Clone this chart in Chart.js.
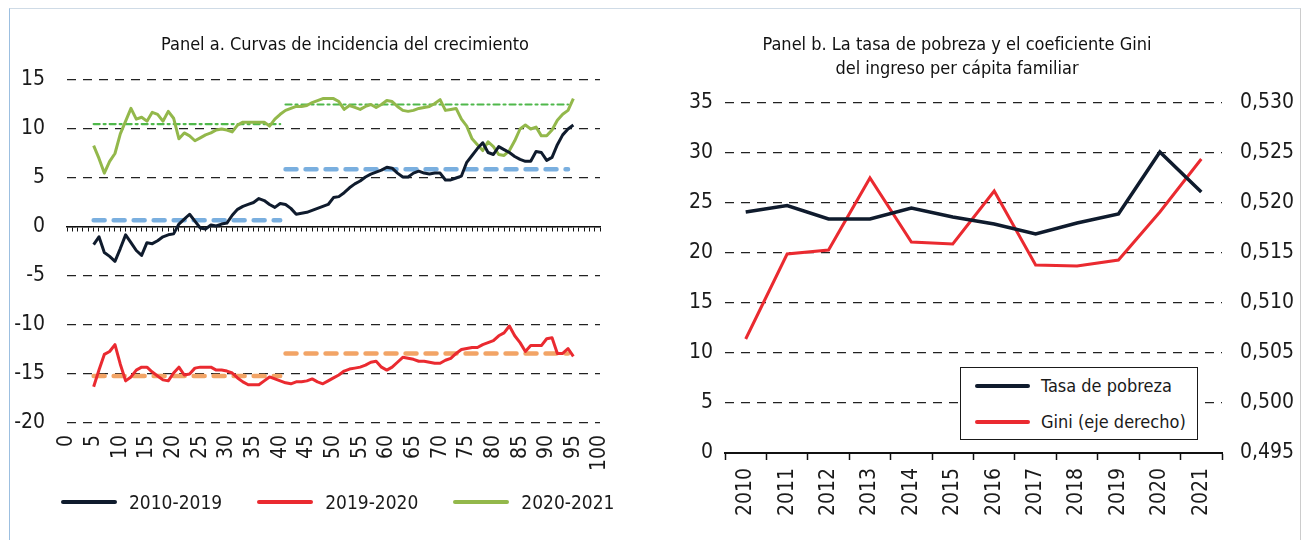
<!DOCTYPE html>
<html lang="es">
<head>
<meta charset="utf-8">
<script src="https://cdn.jsdelivr.net/npm/chart.js@4.4.1/dist/chart.umd.min.js"></script>
<style>
  html, body { margin: 0; padding: 0; background: #fff; }
  body { width: 1307px; height: 540px; position: relative; overflow: hidden;
         font-family: "Liberation Sans Narrow", "DejaVu Sans Condensed", sans-serif; color: #1a1a1a; }
  .frame { position: absolute; left: 9px; top: 8px; width: 1290px; height: 540px;
           border-left: 1px solid #9cbfe0; border-top: 1px solid #cfdbe6; border-right: 1px solid #cccccc; }
  #chartA { position: absolute; left: 0; top: 0; }
  #chartB { position: absolute; left: 655px; top: 0; }
  .ttl { position: absolute; font-size: 18px; line-height: 24px; color: #111; text-align: center; white-space: nowrap; }
  #ttlA { left: 145px; width: 400px; top: 32px; }
  #ttlB { left: 757px; width: 400px; top: 32px; }
  .legA { position: absolute; left: 61px; top: 490px; display: flex; gap: 35px; font-size: 19px; line-height: 24px; white-space: nowrap; }
  .legA .it, .legB .it { display: flex; align-items: center; }
  .legA .sw { width: 56px; height: 4px; margin-right: 12px; border-radius: 2px; }
  .legB { position: absolute; left: 960px; top: 367px; width: 238px; height: 73px; border: 1.5px solid #1a1a1a;
          background: #fff; font-size: 18px; line-height: 24px; padding-top: 6px; box-sizing: border-box; white-space: nowrap; }
  .legB .it { padding-left: 14px; margin-bottom: 12px; }
  .legB .sw { width: 55px; height: 4px; margin-right: 11px; border-radius: 2px; }
</style>
</head>
<body>
<div class="frame"></div>
<canvas id="chartA" width="650" height="540"></canvas>
<canvas id="chartB" width="652" height="540"></canvas>
<div class="ttl" id="ttlA">Panel a. Curvas de incidencia del crecimiento</div>
<div class="ttl" id="ttlB">Panel b. La tasa de pobreza y el coeficiente Gini<br>del ingreso per cápita familiar</div>
<div class="legA" id="legA"></div>
<div class="legB" id="legB"></div>

<script>
// ===== Panel a data (percentil -> crecimiento %) =====
const pctl = [5,6,7,8,9,10,11,12,13,14,15,16,17,18,19,20,21,22,23,24,25,26,27,28,29,30,
  31,32,33,34,35,36,37,38,39,40,41,42,43,44,45,46,47,48,49,50,51,52,53,54,55,56,57,58,59,60,
  61,62,63,64,65,66,67,68,69,70,71,72,73,74,75,76,77,78,79,80,81,82,83,84,85,86,87,88,89,90,
  91,92,93,94,95];

const g1019 = [-1.8,-1.0,-2.6,-3.0,-3.5,-2.2,-0.8,-1.6,-2.4,-2.9,-1.6,-1.7,-1.4,-1.0,-0.8,-0.7,
  0.3,0.8,1.3,0.6,-0.1,-0.2,0.2,0.1,0.3,0.4,1.2,1.8,2.1,2.3,2.5,2.9,2.7,2.3,2.0,2.4,2.3,1.9,1.3,
  1.4,1.5,1.7,1.9,2.1,2.3,3.0,3.1,3.5,4.0,4.4,4.7,5.1,5.4,5.6,5.8,6.1,6.0,5.5,5.1,5.1,5.5,5.7,
  5.5,5.4,5.5,5.5,4.8,4.8,5.0,5.2,6.6,7.3,8.0,8.6,7.6,7.4,8.2,7.9,7.6,7.2,6.9,6.7,6.7,7.7,7.6,
  6.8,7.1,8.4,9.4,10.0,10.4];

const g1920 = [-16.3,-14.6,-13.0,-12.7,-12.0,-14.0,-15.7,-15.3,-14.6,-14.3,-14.3,-14.8,-15.2,
  -15.6,-15.7,-14.9,-14.3,-15.1,-15.0,-14.4,-14.3,-14.3,-14.3,-14.6,-14.6,-14.7,-14.9,-15.4,
  -15.8,-16.1,-16.1,-16.1,-15.7,-15.3,-15.5,-15.7,-15.9,-16.0,-15.8,-15.8,-15.7,-15.5,-15.8,
  -16.0,-15.7,-15.4,-15.1,-14.7,-14.5,-14.4,-14.3,-14.1,-13.8,-13.7,-14.3,-14.6,-14.3,-13.8,
  -13.3,-13.4,-13.5,-13.7,-13.7,-13.8,-13.9,-13.9,-13.6,-13.4,-12.9,-12.5,-12.4,-12.3,-12.3,
  -12.0,-11.8,-11.6,-11.1,-10.8,-10.1,-11.1,-11.8,-12.7,-12.1,-12.1,-12.1,-11.4,-11.3,-12.9,
  -12.9,-12.4,-13.2];

const g2021 = [8.3,7.0,5.5,6.7,7.5,9.5,10.8,12.1,11.0,11.2,10.8,11.7,11.5,10.8,11.8,11.1,9.0,
  9.6,9.3,8.8,9.1,9.4,9.6,9.9,10.0,9.9,9.7,10.4,10.7,10.7,10.7,10.7,10.7,10.3,11.0,11.5,11.9,
  12.1,12.3,12.3,12.4,12.7,12.9,13.1,13.1,13.1,12.8,12.0,12.4,12.2,12.0,12.3,12.5,12.2,12.5,
  12.9,12.8,12.3,11.9,11.8,11.9,12.1,12.2,12.3,12.6,13.0,11.9,12.0,12.1,11.0,10.3,9.0,8.4,7.8,
  8.7,8.2,7.4,7.3,7.8,8.8,10.0,10.4,10.0,10.2,9.3,9.3,9.9,10.9,11.5,11.9,13.1];

// promedios por tramo de percentiles (40 % inferior / 60 % superior)
const tramoInf = [5, 40];
const tramoSup = [41, 94];
const prom1019 = [0.7, 5.9];
const prom1920 = [-15.2, -12.9];
const prom2021 = [10.5, 12.5];

// ===== Panel b data =====
const years = ['2010','2011','2012','2013','2014','2015','2016','2017','2018','2019','2020','2021'];
const pobreza = [24.1, 24.75, 23.4, 23.4, 24.5, 23.6, 22.9, 21.9, 23.0, 23.9, 30.1, 26.1];
const gini = [0.5064, 0.5149, 0.5153, 0.5225, 0.5161, 0.5159, 0.5212, 0.5138, 0.5137, 0.5143, 0.5191, 0.5244];

const FONT = '"Liberation Sans Narrow", "DejaVu Sans Condensed", sans-serif';
const TXT = '#1a1a1a';
const tickFont = { family: FONT, size: 21 };

const C_BLACK = '#0f1b2d', C_RED = '#ea2a30', C_GREEN = '#93b84b';

function pts(xs, ys){ return xs.map((x,i) => ({ x: x, y: ys[i] })); }
function seg(tr, v){ return [{ x: tr[0], y: v }, { x: tr[1], y: v }]; }

function curve(label, ys, color){
    return { label, data: pts(pctl, ys), borderColor: color, backgroundColor: color,
             borderWidth: 3, pointRadius: 0, tension: 0, borderJoinStyle: 'round', order: 1 };
}
function ref(data, color, width, dash){
    return { label: '', data, borderColor: color, borderWidth: width, borderDash: dash,
             borderCapStyle: 'round', pointRadius: 0, order: 2 };
}

// ===== Panel a =====
const seriesA = [
    curve('2010-2019', g1019, C_BLACK),
    curve('2019-2020', g1920, C_RED),
    curve('2020-2021', g2021, C_GREEN)
];
const refsA = [
    ref(seg(tramoInf, prom1019[0]), '#7aafdf', 4.5, [11, 9]),
    ref(seg(tramoSup, prom1019[1]), '#7aafdf', 4.5, [11, 9]),
    ref(seg(tramoInf, prom1920[0]), '#f2a466', 4.5, [11, 9]),
    ref(seg(tramoSup, prom1920[1]), '#f2a466', 4.5, [11, 9]),
    ref(seg(tramoInf, prom2021[0]), '#4fb84b', 2.2, [6, 4, 2, 4]),
    ref(seg(tramoSup, prom2021[1]), '#4fb84b', 2.2, [6, 4, 2, 4])
];

new Chart(document.getElementById('chartA'), {
    type: 'line',
    data: { datasets: seriesA.concat(refsA) },
    options: {
        responsive: false, animation: false,
        layout: { padding: { left: 15, right: 50, top: 80, bottom: 67 } },
        plugins: { legend: { display: false }, tooltip: { enabled: false } },
        scales: {
            x: { type: 'linear', min: 0, max: 100, position: 'bottom',
                 grid: { display: false, drawTicks: false }, border: { display: false },
                 ticks: { stepSize: 5, autoSkip: false, maxRotation: 90, minRotation: 90,
                          padding: 12, font: tickFont, color: TXT },
                 afterFit: s => { s.height = 50; } },
            x0: { type: 'linear', min: 0, max: 100, position: { y: 0 },
                  grid: { drawOnChartArea: false, drawTicks: true, tickLength: 4, color: '#111', lineWidth: 1 },
                  border: { display: true, color: '#111', width: 1.5 },
                  ticks: { stepSize: 1, autoSkip: false, callback: () => '', font: { size: 1 } } },
            y: { min: -20, max: 15,
                 ticks: { stepSize: 5, padding: 22, font: tickFont, color: TXT },
                 grid: { color: '#222', lineWidth: 1.3, drawTicks: false },
                 border: { display: false, dash: [9, 7] },
                 afterFit: s => { s.width = 52; } }
        }
    }
});

// ===== Panel b =====
const seriesB = [
    { label: 'Tasa de pobreza', data: pobreza, yAxisID: 'y', borderColor: C_BLACK, backgroundColor: C_BLACK,
      borderWidth: 3.5, pointRadius: 0, tension: 0 },
    { label: 'Gini (eje derecho)', data: gini, yAxisID: 'y1', borderColor: C_RED, backgroundColor: C_RED,
      borderWidth: 3, pointRadius: 0, tension: 0 }
];

new Chart(document.getElementById('chartB'), {
    type: 'line',
    data: { labels: years, datasets: seriesB },
    options: {
        responsive: false, animation: false,
        layout: { padding: { left: 10, right: 10, top: 103 } },
        plugins: { legend: { display: false }, tooltip: { enabled: false } },
        scales: {
            x: { offset: true,
                 grid: { display: true, offset: true, drawOnChartArea: false, drawTicks: true,
                         tickLength: 7, tickColor: '#111', tickWidth: 1.5 },
                 border: { display: true, color: '#111', width: 2 },
                 ticks: { autoSkip: false, maxRotation: 90, minRotation: 90, padding: 8, font: tickFont, color: TXT },
                 afterFit: s => { s.height = 87; } },
            y: { position: 'left', min: 0, max: 35,
                 ticks: { stepSize: 5, padding: 12, font: tickFont, color: TXT },
                 grid: { color: '#222', lineWidth: 1.3, drawTicks: false },
                 border: { display: false, dash: [9, 7] },
                 afterFit: s => { s.width = 60; } },
            y1: { position: 'right', min: 0.495, max: 0.530,
                  ticks: { stepSize: 0.005, padding: 18, font: tickFont, color: TXT,
                           callback: v => v.toFixed(3).replace('.', ',') },
                  grid: { display: false, drawTicks: false }, border: { display: false },
                  afterFit: s => { s.width = 75; } }
        }
    }
});

// ===== HTML legends =====
function fillLegend(el, list){
    list.forEach(d => {
        const it = document.createElement('div');
        it.className = 'it';
        const sw = document.createElement('span');
        sw.className = 'sw';
        sw.style.background = d.borderColor;
        const tx = document.createElement('span');
        tx.textContent = d.label;
        it.appendChild(sw); it.appendChild(tx);
        el.appendChild(it);
    });
}
fillLegend(document.getElementById('legA'), seriesA);
fillLegend(document.getElementById('legB'), seriesB);
</script>
</body>
</html>
